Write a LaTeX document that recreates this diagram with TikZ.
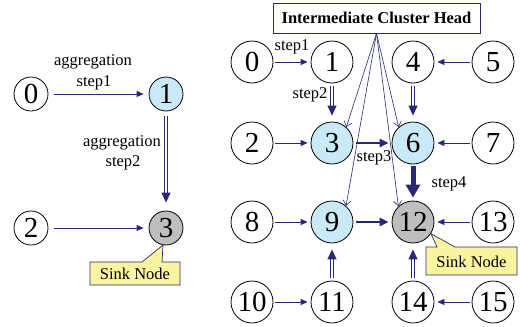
\documentclass[tikz,border=0pt]{standalone}
\usepackage{fontspec}
\setmainfont{Liberation Serif}
\usetikzlibrary{arrows.meta,calc}
\definecolor{navy}{RGB}{40,40,120}
\definecolor{lblue}{RGB}{202,233,246}
\definecolor{sgray}{RGB}{190,190,190}
\definecolor{syellow}{RGB}{248,244,160}
\tikzset{
  circ/.style={circle,draw=black,line width=0.8pt,minimum size=42pt,inner sep=0pt,fill=white,font=\fontsize{29}{29}\selectfont},
  lcirc/.style={circ,minimum size=34pt},
  bluef/.style={fill=lblue},
  sinkf/.style={fill=sgray},
  lbl/.style={font=\fontsize{16.5}{18}\selectfont,inner sep=0pt},
  ar/.style={draw=navy,line width=0.8pt,-{Triangle[length=7pt,width=6pt]},shorten >=3pt,shorten <=2pt},
  dbl/.style={draw=navy,double=white,line width=1pt,double distance=1.4pt,-{Triangle[length=10pt,width=9pt]},shorten >=6pt,shorten <=3pt},
  thk/.style={draw=navy,line width=2.2pt,-{Triangle[length=9pt,width=8pt]},shorten >=3pt,shorten <=3pt},
  vthk/.style={draw=navy,line width=5pt,-{Triangle[length=13pt,width=14pt]},shorten >=3pt,shorten <=2pt},
  fan/.style={draw=navy,line width=0.6pt,-{Straight Barb[length=5pt,width=8pt]}},
  callout/.style={draw=navy,line width=0.7pt,fill=syellow}
}
\begin{document}
\begin{tikzpicture}[x=1pt,y=-1pt]
\useasboundingbox (0,0) rectangle (520,327);
% ---------- left part ----------
\node[lcirc] (L0) at (31,94) {0};
\node[lcirc,bluef] (L1) at (166,94) {1};
\node[lcirc] (L2) at (31,228) {2};
\node[lcirc,sinkf] (L3) at (166,228) {3};
\node[lbl] (la1) at (93,62) {aggregation};
\node[lbl] (ls1) at (94,83) {step1};
\node[lbl] (la2) at (122,143) {aggregation};
\node[lbl] (ls2) at (123,163) {step2};
\draw[ar,shorten <=6pt,shorten >=5pt] (L0) -- (L1);
\draw[ar,shorten <=6pt,shorten >=5pt] (L2) -- (L3);
\draw[dbl,shorten <=5pt,shorten >=8pt] (L1) -- (L3);
\draw[callout] (90,262) -- (142,262) -- (L3.260) -- (162,262) -- (180,262) -- (180,285) -- (90,285) -- cycle;
\node[lbl] (lsink) at (135,274) {Sink Node};
% ---------- right part ----------
\node[circ] (n0) at (252,62) {0};
\node[circ] (n1) at (332,62) {1};
\node[circ] (n4) at (413,62) {4};
\node[circ] (n5) at (493,62) {5};
\node[circ] (n2) at (252,143) {2};
\node[circ,bluef] (n3) at (332,143) {3};
\node[circ,bluef] (n6) at (413,143) {6};
\node[circ] (n7) at (493,143) {7};
\node[circ] (n8) at (252,222) {8};
\node[circ,bluef] (n9) at (332,222) {9};
\node[circ,sinkf] (n12) at (413,222) {12};
\node[circ] (n13) at (493,222) {13};
\node[circ] (n10) at (252,302) {10};
\node[circ] (n11) at (332,302) {11};
\node[circ] (n14) at (413,302) {14};
\node[circ] (n15) at (493,302) {15};
\node[draw=navy,line width=0.7pt,fill=white,minimum width=207pt,minimum height=30pt,inner sep=0pt,font=\fontsize{16.5}{18}\selectfont\bfseries] (ch) at (376.5,18) {Intermediate Cluster Head};
% thin arrows
\draw[ar] (n0) -- (n1);
\draw[ar] (n2) -- (n3);
\draw[ar] (n5) -- (n4);
\draw[ar] (n7) -- (n6);
\draw[ar] (n8) -- (n9);
\draw[ar] (n13) -- (n12);
\draw[ar] (n10) -- (n11);
\draw[ar] (n15) -- (n14);
% double arrows
\draw[dbl] (n1) -- (n3);
\draw[dbl] (n4) -- (n6);
\draw[dbl] (n11) -- (n9);
\draw[dbl] (n14) -- (n12);
% thick arrows
\draw[thk] (n3) -- (n6);
\draw[thk] (n9) -- (n12);
\draw[vthk] (n6) -- (n12);
% fan
\coordinate (src) at (ch.south);
\draw[fan] (src) -- (n3.48);
\draw[fan] (src) -- (n6.132);
\draw[fan] (src) -- (n9.49);
\draw[fan] (src) -- (n12.133);
% step labels
\node[lbl] (s1) at (292,47) {step1};
\node[lbl] (s2) at (310,95) {step2};
\node[lbl] (s3) at (374,158) {step3};
\node[lbl] (s4) at (449,184) {step4};
% sink callout right
\draw[callout] (426,247) -- (437,247) -- (n12.327) -- (455,247) -- (517,247) -- (517,275) -- (426,275) -- cycle;
\node[lbl] (rsink) at (471.5,261.5) {Sink Node};
\end{tikzpicture}
\end{document}
